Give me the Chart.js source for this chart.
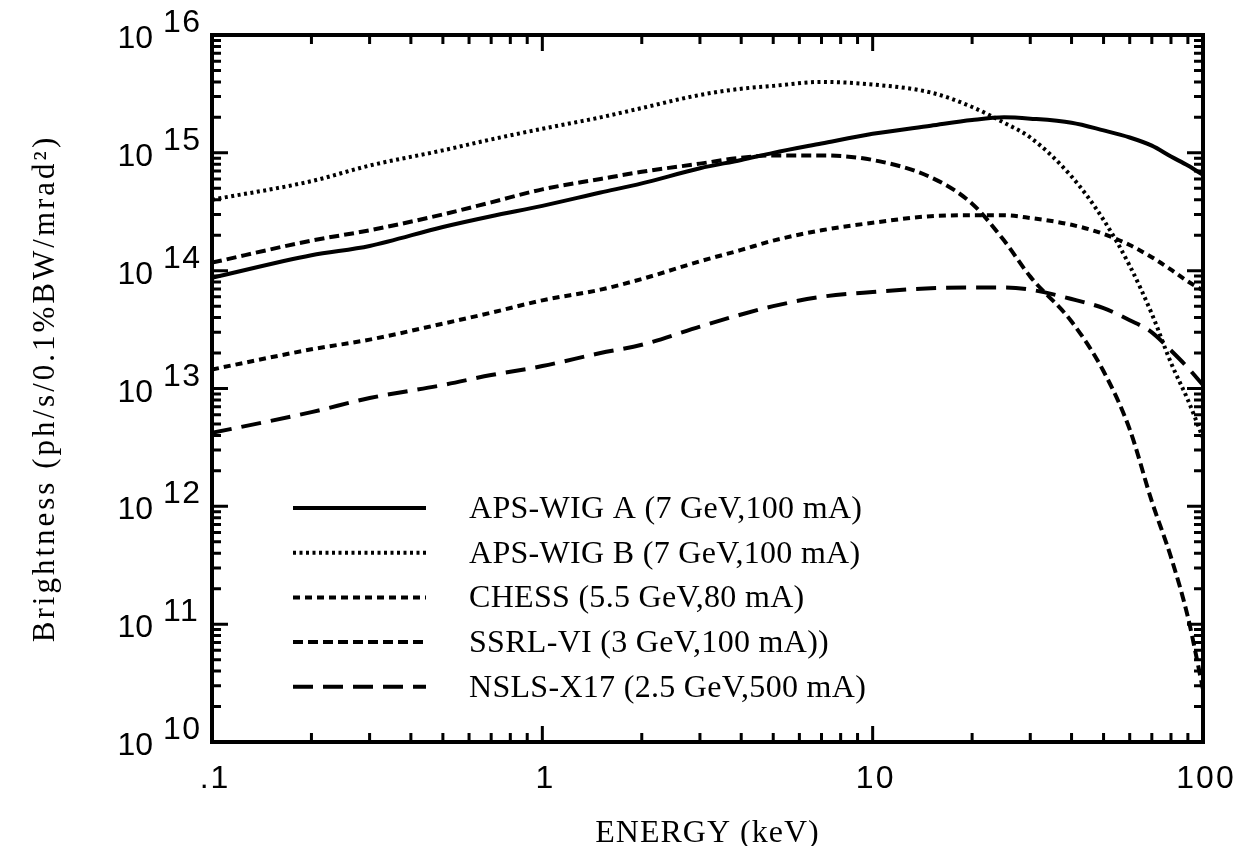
<!DOCTYPE html>
<html>
<head>
<meta charset="utf-8">
<script src="https://cdn.jsdelivr.net/npm/chart.js@4"></script>
<style>
  body { margin: 0; background: #fff; }
  canvas { display: block; }
</style>
</head>
<body>
<canvas id="chart-brightness" width="1243" height="846"></canvas>
<script>
// photon energy grid (keV)
const energies = [0.1, 0.2, 0.3, 0.5, 0.7, 1, 1.5, 2, 3, 4, 5, 7, 10, 15, 20, 25, 30, 40, 50, 60, 70, 80, 90, 100];

// brightness (ph/s/0.1%BW/mrad^2)
const apsWigA = [8.7e13, 1.35e14, 1.62e14, 2.35e14, 2.9e14, 3.55e14, 4.6e14, 5.5e14, 7.4e14, 8.7e14, 1.0e15, 1.2e15, 1.45e15, 1.7e15, 1.9e15, 2.0e15, 1.95e15, 1.8e15, 1.55e15, 1.35e15, 1.15e15, 9.3e14, 7.8e14, 6.5e14];
const apsWigB = [4.0e14, 5.75e14, 7.8e14, 1.05e15, 1.3e15, 1.6e15, 2.0e15, 2.4e15, 3.1e15, 3.5e15, 3.7e15, 4.0e15, 3.8e15, 3.25e15, 2.45e15, 1.8e15, 1.35e15, 6.3e14, 2.7e14, 1.1e14, 4.3e13, 1.65e13, 8e12, 3.8e12];
const chess = [1.45e13, 2.15e13, 2.6e13, 3.55e13, 4.4e13, 5.6e13, 6.9e13, 8.5e13, 1.2e14, 1.5e14, 1.8e14, 2.2e14, 2.55e14, 2.9e14, 2.95e14, 2.95e14, 2.8e14, 2.45e14, 2.05e14, 1.65e14, 1.3e14, 1.02e14, 8.1e13, 6.8e13];
const ssrl = [1.17e14, 1.8e14, 2.2e14, 3.0e14, 3.8e14, 4.9e14, 6.0e14, 6.9e14, 8.1e14, 9.1e14, 9.5e14, 9.5e14, 8.7e14, 6.2e14, 3.7e14, 1.8e14, 8.9e13, 3.7e13, 1.4e13, 4.5e12, 1.1e12, 3.7e11, 1.15e11, 2.8e10];
const nsls = [4.2e12, 6.3e12, 8.3e12, 1.07e13, 1.3e13, 1.55e13, 2.0e13, 2.35e13, 3.35e13, 4.25e13, 5.0e13, 6.0e13, 6.6e13, 7.1e13, 7.2e13, 7.2e13, 6.9e13, 5.75e13, 4.8e13, 3.8e13, 3.0e13, 2.1e13, 1.5e13, 1.07e13];

const seriesLabels = [
  "APS-WIG A (7 GeV,100 mA)",
  "APS-WIG B (7 GeV,100 mA)",
  "CHESS (5.5 GeV,80 mA)",
  "SSRL-VI (3 GeV,100 mA))",
  "NSLS-X17 (2.5 GeV,500 mA)",
];

// tick labels
const xTickValues = [0.1, 1, 10, 100];
const xTickLabels = [".1", "1", "10", "100"];
const yTickValues = [1e10, 1e11, 1e12, 1e13, 1e14, 1e15, 1e16];
const yTickExponents = ["10", "11", "12", "13", "14", "15", "16"];

const xTitle = "ENERGY (keV)";
const yTitle = "Brightness (ph/s/0.1%BW/mrad\u00B2)";

function points(values) {
  return energies.map(function (e, i) {
    return { x: e, y: values[i] };
  });
}

const dashes = [[], [3, 3.5], [7, 5], [10, 5], [20, 10]];
const widths = [4, 4, 4, 4, 4];

// frame, inside ticks, tick labels, titles and legend
const framePlugin = {
  id: "frame",
  afterDraw(chart) {
    const c = chart.ctx;
    const a = chart.chartArea;
    const xs = chart.scales.x;
    const ys = chart.scales.y;
    c.save();
    c.strokeStyle = "#000";
    c.fillStyle = "#000";

    // ticks
    c.lineWidth = 3;
    c.setLineDash([]);
    for (let d = -1; d < 2; d++) {
      for (let m = 1; m < 10; m++) {
        const v = m * Math.pow(10, d);
        const px = xs.getPixelForValue(v);
        if (px <= a.left + 1 || px >= a.right - 1) continue;
        const len = m === 1 ? 16 : 9;
        c.beginPath();
        c.moveTo(px, a.bottom); c.lineTo(px, a.bottom - len);
        c.moveTo(px, a.top); c.lineTo(px, a.top + len);
        c.stroke();
      }
    }
    for (let d = 10; d < 16; d++) {
      for (let m = 1; m < 10; m++) {
        const v = m * Math.pow(10, d);
        const py = ys.getPixelForValue(v);
        if (py <= a.top + 1 || py >= a.bottom - 1) continue;
        const len = m === 1 ? 16 : 9;
        c.beginPath();
        c.moveTo(a.left, py); c.lineTo(a.left + len, py);
        c.moveTo(a.right, py); c.lineTo(a.right - len, py);
        c.stroke();
      }
    }

    // frame
    c.lineWidth = 4;
    c.strokeRect(a.left, a.top, a.right - a.left, a.bottom - a.top);

    // x tick labels
    c.font = "32px 'Liberation Sans', Arial, sans-serif";
    c.letterSpacing = "2px";
    c.textAlign = "left";
    c.textBaseline = "alphabetic";
    xTickValues.forEach(function (v, i) {
      const w = c.measureText(xTickLabels[i]).width - 2;
      c.fillText(xTickLabels[i], xs.getPixelForValue(v) - w / 2 + 2, 788);
    });

    // y tick labels 10^n
    yTickValues.forEach(function (v, i) {
      const py = ys.getPixelForValue(v);
      c.letterSpacing = "0px";
      c.textAlign = "right";
      c.fillText("10", 153, py + 13);
      c.letterSpacing = "1.5px";
      c.textAlign = "left";
      c.fillText(yTickExponents[i], 163, py - 3);
    });

    // axis titles
    c.font = "32px 'Liberation Serif', 'Times New Roman', serif";
    c.letterSpacing = "1px";
    c.textAlign = "left";
    let w = c.measureText(xTitle).width;
    c.fillText(xTitle, (a.left + a.right) / 2 - w / 2, 842);

    c.save();
    c.font = "31px 'Liberation Serif', 'Times New Roman', serif";
    c.letterSpacing = "3px";
    w = c.measureText(yTitle).width;
    c.translate(54, (a.top + a.bottom) / 2);
    c.rotate(-Math.PI / 2);
    c.fillText(yTitle, -w / 2, 0);
    c.restore();

    // legend
    c.font = "32px 'Liberation Serif', 'Times New Roman', serif";
    c.letterSpacing = "0.3px";
    chart.data.datasets.forEach(function (ds, i) {
      const y = 508 + i * 44.7;
      c.lineWidth = ds.borderWidth;
      c.setLineDash(ds.borderDash);
      c.beginPath();
      c.moveTo(293, y);
      c.lineTo(426, y);
      c.stroke();
      c.setLineDash([]);
      c.fillText(ds.label, 469, y + 10);
    });

    c.restore();
  },
};

function createChart() {
  const ctx = document.getElementById("chart-brightness").getContext("2d");
  const series = [apsWigA, apsWigB, chess, ssrl, nsls];
  return new Chart(ctx, {
    type: "line",
    data: {
      datasets: series.map(function (s, i) {
        return {
          label: seriesLabels[i],
          data: points(s),
          borderColor: "#000",
          borderWidth: widths[i],
          borderDash: dashes[i],
          pointRadius: 0,
          cubicInterpolationMode: "monotone",
          fill: false,
        };
      }),
    },
    options: {
      responsive: false,
      animation: false,
      devicePixelRatio: 1,
      layout: { padding: { left: 212, top: 35, right: 40, bottom: 104 } },
      plugins: {
        legend: { display: false },
        tooltip: { enabled: false },
        title: { display: false },
      },
      scales: {
        x: { type: "logarithmic", min: 0.1, max: 100, display: false },
        y: { type: "logarithmic", min: 1e10, max: 1e16, display: false },
      },
    },
    plugins: [framePlugin],
  });
}

createChart();
</script>
</body>
</html>
